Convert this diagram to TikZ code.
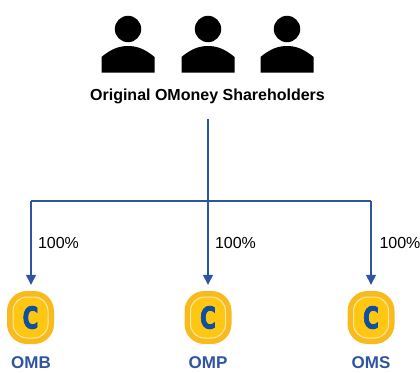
\documentclass[tikz,border=0pt]{standalone}
\usepackage{fontspec}
\setmainfont{Liberation Sans}
\newfontfamily\coinfont{DejaVu Sans}[BoldFeatures={FakeBold=3}]
\usetikzlibrary{arrows.meta}
\definecolor{linkblue}{HTML}{2F54A0}
\definecolor{coinout}{HTML}{F7BB1E}
\definecolor{coinin}{HTML}{FFC612}
\definecolor{coinring}{HTML}{FBE7A8}
\definecolor{coinletter}{HTML}{0F4FA0}
\tikzset{
  x=1pt,y=-1pt,
  link/.style={draw=linkblue,line width=1.4pt},
  arrowlink/.style={link,-{Triangle[length=10pt,width=10pt]},shorten >=6pt},
  pct/.style={font=\fontsize{16}{18}\selectfont,inner sep=0pt,anchor=center},
  coinlabel/.style={font=\fontsize{17}{20}\selectfont\bfseries,text=linkblue,inner sep=0pt},
  title/.style={font=\fontsize{16}{18}\selectfont\bfseries,inner sep=0pt},
  coinbody/.style={minimum width=47pt,minimum height=53pt,rounded corners=20pt,fill=coinout,inner sep=0pt},
  coinface/.style={minimum width=35pt,minimum height=41pt,rounded corners=14pt,fill=coinin,draw=coinring,line width=1pt,inner sep=0pt},
  coinc/.style={font=\coinfont\fontsize{30}{30}\selectfont\bfseries,text=coinletter,inner sep=0pt,xscale=0.72}
}
\newcommand{\personicon}[1]{%
  \fill[black] (#1,29) circle[radius=13.2];
  \fill[black] (#1-26.5,72.5) -- (#1-26.5,57) .. controls (#1-17,49) and (#1-9,46) .. (#1,46) .. controls (#1+9,46) and (#1+17,49) .. (#1+26.5,57) -- (#1+26.5,72.5) -- cycle;
}
\begin{document}
\begin{tikzpicture}
\useasboundingbox (0,0) rectangle (420,372);
\personicon{128}
\personicon{208}
\personicon{287}
\node[title] (holders) at (207.5,96.5) {Original OMoney Shareholders};
\coordinate (top) at (208,119);
\coordinate (junction) at (208,201);
\coordinate (left) at (31,201);
\coordinate (right) at (371,201);
\node[coinbody] (coinA) at (30.5,317.5) {};
\node[coinbody] (coinB) at (208,317.5) {};
\node[coinbody] (coinC) at (371,317.5) {};
\node[coinface] (faceA) at (30.5,317.5) {};
\node[coinface] (faceB) at (208,317.5) {};
\node[coinface] (faceC) at (371,317.5) {};
\node[coinc] at (faceA) {C};
\node[coinc] at (faceB) {C};
\node[coinc] at (faceC) {C};
\node[coinlabel] (omb) at (31,363) {OMB};
\node[coinlabel] (omp) at (208,363) {OMP};
\node[coinlabel] (oms) at (371,363) {OMS};
\node[pct] (pa) at (58.5,242.5) {100\%};
\node[pct] (pb) at (235.5,242.5) {100\%};
\node[pct] (pc) at (400,242.5) {100\%};
\draw[link] (top) -- (junction);
\draw[link] (left) -- (right);
\draw[arrowlink] (left) -- (left |- coinA.north);
\draw[arrowlink] (junction) -- (coinB.north);
\draw[arrowlink] (right) -- (coinC.north);
\end{tikzpicture}
\end{document}
